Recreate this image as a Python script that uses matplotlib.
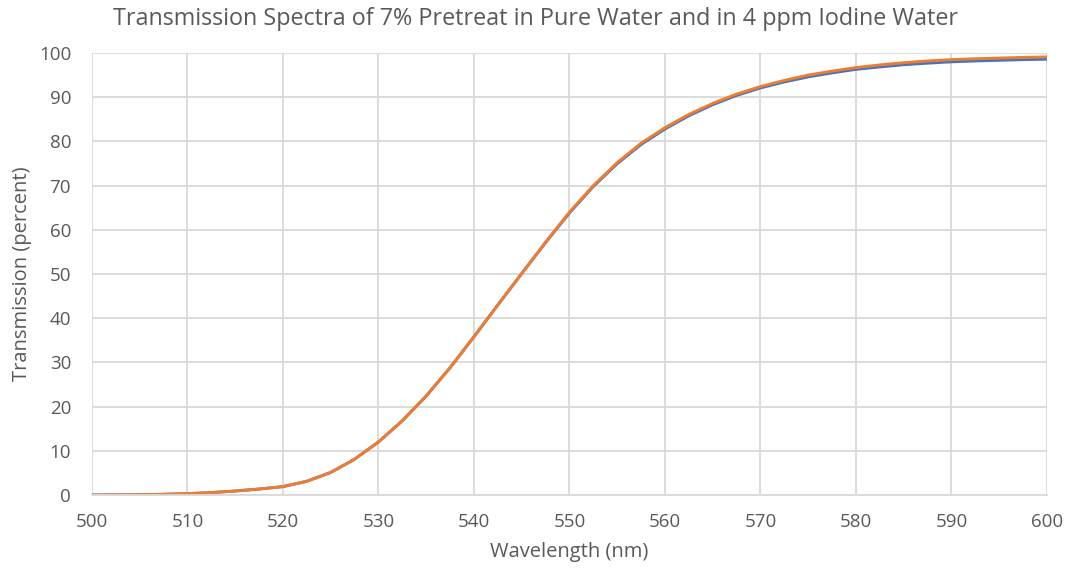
import matplotlib

matplotlib.use("Agg")
import matplotlib.pyplot as plt
import numpy as np

# transmission (%) sampled every 2.5 nm
wavelength = np.arange(500.0, 600.01, 2.5)
iodine_water = [
    0.0, 0.02, 0.06, 0.15, 0.3, 0.55, 0.9, 1.35, 1.9, 3.1,
    5.1, 8.1, 12.0, 16.8, 22.4, 28.8, 35.8, 43.0, 50.1, 57.2,
    64.0, 70.0, 75.2, 79.6, 83.1, 86.1, 88.6, 90.7, 92.4, 93.8,
    95.0, 95.9, 96.7, 97.3, 97.8, 98.2, 98.5, 98.7, 98.85, 99.0,
    99.1,
]
pure_water = [
    0.0, 0.02, 0.06, 0.15, 0.3, 0.55, 0.9, 1.35, 1.9, 3.1,
    5.1, 8.1, 12.0, 16.8, 22.4, 28.8, 35.8, 43.0, 50.1, 57.1,
    63.8, 69.8, 74.95, 79.3, 82.8, 85.8, 88.3, 90.4, 92.1, 93.45,
    94.6, 95.5, 96.3, 96.85, 97.35, 97.7, 98.0, 98.2, 98.35, 98.5,
    98.6,
]

TEXT = "#595959"
GRID = "#D9D9D9"
FONT = ["Open Sans", "DejaVu Sans"]

fig = plt.figure(figsize=(10.68, 5.71), dpi=100)
ax = fig.add_axes([0.0861, 0.1331, 0.8942, 0.7741])

ax.plot(wavelength, pure_water, color="#4472C4", linewidth=2.1, solid_capstyle="round")
ax.plot(wavelength, iodine_water, color="#ED7D31", linewidth=2.1, solid_capstyle="round")

ax.set_xlim(500, 600)
ax.set_ylim(0, 100)
ax.set_xticks(np.arange(500, 601, 10))
ax.set_yticks(np.arange(0, 101, 10))
ax.grid(True, color=GRID, linewidth=1.3, zorder=0)
ax.set_axisbelow(True)
for side in ("top", "right", "left"):
    ax.spines[side].set_visible(False)
ax.spines["bottom"].set_color(GRID)
ax.spines["bottom"].set_linewidth(1.3)
ax.tick_params(length=0, colors=TEXT, labelsize=13.5)
ax.tick_params(axis="x", pad=13)
ax.tick_params(axis="y", pad=15)
for lab in ax.get_xticklabels() + ax.get_yticklabels():
    lab.set_family(FONT)

ax.set_xlabel("Wavelength (nm)", fontsize=14.5, color=TEXT, family=FONT, labelpad=8)
ax.set_ylabel("Transmission (percent)", fontsize=14.5, color=TEXT, family=FONT, labelpad=5)
fig.suptitle(
    "Transmission Spectra of 7% Pretreat in Pure Water and in 4 ppm Iodine Water",
    x=0.501, y=0.988, fontsize=16.8, color=TEXT, family=FONT,
)

fig.savefig("out.png", dpi=100)
